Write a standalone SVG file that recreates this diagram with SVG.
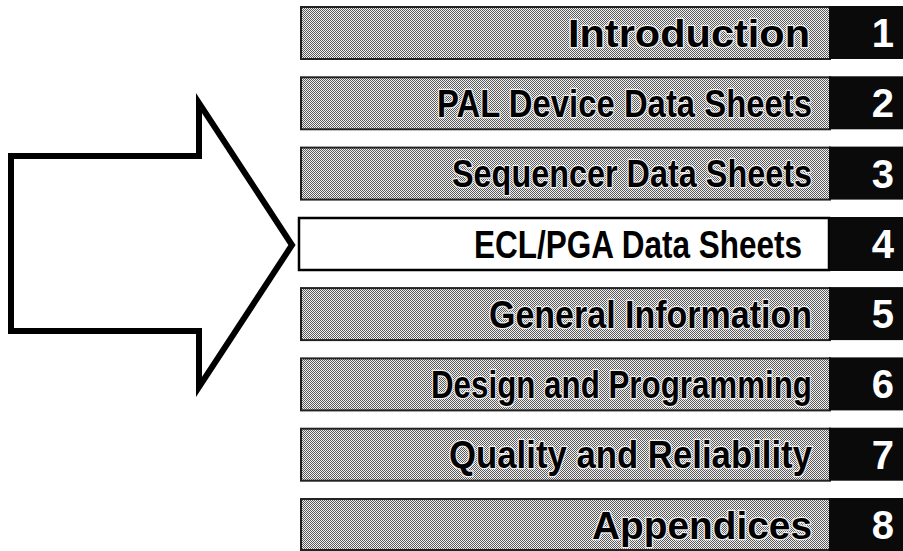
<svg xmlns="http://www.w3.org/2000/svg" width="903" height="551" viewBox="0 0 903 551">
<defs>
<pattern id="dith" width="2" height="2" patternUnits="userSpaceOnUse">
<rect width="2" height="2" fill="#f2f2f2"/>
<rect x="0" y="0" width="1" height="1" fill="#5a5a5a"/>
<rect x="1" y="1" width="1" height="1" fill="#5a5a5a"/>
</pattern>
<style>
.bar{fill:url(#dith);stroke:#222;stroke-width:2}
.wbar{fill:#fff;stroke:#000;stroke-width:2.5}
.num{fill:#0a0a0a}
.lbl{font-family:"Liberation Sans",Arial,sans-serif;font-weight:bold;font-size:38px;fill:#000;stroke:#ececec;stroke-width:2.5;paint-order:stroke;stroke-linejoin:round}
.lblw{font-family:"Liberation Sans",Arial,sans-serif;font-weight:bold;font-size:38px;fill:#000}
.dig{font-family:"Liberation Sans",Arial,sans-serif;font-weight:bold;font-size:40px;fill:#fff;text-anchor:end}
.arrow{fill:#fff;stroke:#000;stroke-width:6;stroke-linejoin:miter}
</style>
</defs>
<g id="arrow">
<polygon class="arrow" points="11,156 199,156 199,103 292,245 199,387 199,331 11,331"/>
</g>
<g id="connectors"></g>
<g id="node1">
<rect class="bar" x="301" y="7" width="529" height="52"/>
<rect class="num" x="829" y="6" width="74" height="53"/>
<text class="lbl" x="568" y="46.5" textLength="242" lengthAdjust="spacingAndGlyphs">Introduction</text>
<text class="dig" x="894" y="47">1</text>
</g>
<g id="node2">
<rect class="bar" x="301" y="77.3" width="529" height="52"/>
<rect class="num" x="829" y="76.3" width="74" height="53"/>
<text class="lbl" x="437" y="116.8" textLength="375" lengthAdjust="spacingAndGlyphs">PAL Device Data Sheets</text>
<text class="dig" x="894" y="117.3">2</text>
</g>
<g id="node3">
<rect class="bar" x="301" y="147.6" width="529" height="52"/>
<rect class="num" x="829" y="146.6" width="74" height="53"/>
<text class="lbl" x="452" y="187.1" textLength="360" lengthAdjust="spacingAndGlyphs">Sequencer Data Sheets</text>
<text class="dig" x="894" y="187.6">3</text>
</g>
<g id="node4">
<rect class="wbar" x="299" y="218" width="530" height="52"/>
<rect class="num" x="830" y="217" width="73" height="54"/>
<text class="lblw" x="474" y="257.5" textLength="328" lengthAdjust="spacingAndGlyphs">ECL/PGA Data Sheets</text>
<text class="dig" x="894" y="258">4</text>
</g>
<g id="node5">
<rect class="bar" x="301" y="288.1" width="529" height="52"/>
<rect class="num" x="829" y="287.1" width="74" height="53"/>
<text class="lbl" x="489" y="327.6" textLength="323" lengthAdjust="spacingAndGlyphs">General Information</text>
<text class="dig" x="894" y="328.1">5</text>
</g>
<g id="node6">
<rect class="bar" x="301" y="358.4" width="529" height="52"/>
<rect class="num" x="829" y="357.4" width="74" height="53"/>
<text class="lbl" x="431" y="397.9" textLength="381" lengthAdjust="spacingAndGlyphs">Design and Programming</text>
<text class="dig" x="894" y="398.4">6</text>
</g>
<g id="node7">
<rect class="bar" x="301" y="428.7" width="529" height="52"/>
<rect class="num" x="829" y="427.7" width="74" height="53"/>
<text class="lbl" x="449" y="468.2" textLength="363" lengthAdjust="spacingAndGlyphs">Quality and Reliability</text>
<text class="dig" x="894" y="468.7">7</text>
</g>
<g id="node8">
<rect class="bar" x="301" y="499" width="529" height="51"/>
<rect class="num" x="829" y="498" width="74" height="53"/>
<text class="lbl" x="592" y="538.5" textLength="220" lengthAdjust="spacingAndGlyphs">Appendices</text>
<text class="dig" x="894" y="539">8</text>
</g>
</svg>
